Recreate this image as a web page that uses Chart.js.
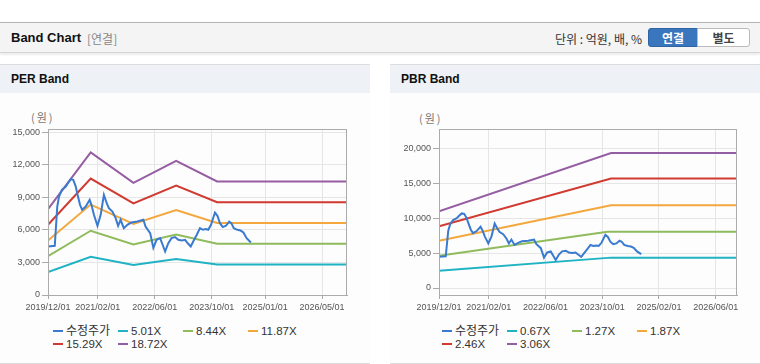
<!DOCTYPE html>
<html><head><meta charset="utf-8">
<script src="https://cdn.jsdelivr.net/npm/chart.js@4/dist/chart.umd.min.js"></script>
<style>
html,body{margin:0;padding:0;background:#fff;}
body{width:760px;height:364px;position:relative;overflow:hidden;font-family:"Liberation Sans","Noto Sans CJK KR",sans-serif;}
.topbar{position:absolute;left:0;top:22px;width:760px;height:29px;background:#f4f4f4;border-top:1px solid #b5b5b5;border-bottom:1px solid #d5d5d5;box-shadow:0 2px 2px rgba(0,0,0,0.08);}
.title{position:absolute;left:11px;top:7px;font-size:13px;font-weight:bold;color:#111;}
.sub{position:absolute;left:87px;top:7px;font-size:12px;color:#888;font-family:"Noto Sans CJK KR",sans-serif;}
.unit{position:absolute;right:118px;top:7px;font-size:12px;color:#333;font-family:"Noto Sans CJK KR",sans-serif;}
.btn{position:absolute;top:5px;height:19px;line-height:18px;text-align:center;font-size:12px;font-weight:bold;font-family:"Noto Sans CJK KR",sans-serif;box-sizing:border-box;}
.b1{left:648px;width:50px;background:#3a76bd;color:#fff;border:1px solid #2f64a3;border-radius:3px 0 0 3px;}
.b2{left:697px;width:53px;background:#fff;color:#444;border:1px solid #bbb;border-radius:0 3px 3px 0;}
.panel{position:absolute;top:64px;width:370px;height:298px;background:#fdfdfd;border-top:1px solid #dcdcdc;border-bottom:1px solid #dcdcdc;}
.phead{position:absolute;left:0;top:0;width:100%;height:28px;background:#eef1f5;}
.phead span{position:absolute;left:11px;top:7px;font-size:12px;font-weight:bold;color:#111;}
.unitlbl{position:absolute;font-size:11px;color:#777;font-family:"Noto Sans CJK KR",sans-serif;letter-spacing:2px;}
canvas{position:absolute;}
.legend{position:absolute;width:270px;font-size:11.5px;color:#333;line-height:13px;}
.legend .it{display:inline-block;width:65px;height:13px;white-space:nowrap;}
.legend .sw{display:inline-block;width:10px;height:2px;vertical-align:middle;margin-right:3px;margin-top:-2px;}
.legend .kr{font-family:"Noto Sans CJK KR",sans-serif;font-size:12px;}
</style></head>
<body>
<div class="topbar"><div class="title">Band Chart</div><div class="sub">[연결]</div><div class="unit">단위 : 억원, 배, %</div><div class="btn b1">연결</div><div class="btn b2">별도</div></div>
<div class="panel" style="left:0;"><div class="phead"><span>PER Band</span></div></div>
<div class="panel" style="left:390px;"><div class="phead"><span>PBR Band</span></div></div>
<div class="unitlbl" style="left:31px;top:109px;">(원)</div>
<div class="unitlbl" style="left:419px;top:110px;">(원)</div>
<canvas id="per" width="370" height="215" style="left:0;top:100px;width:370px;height:215px;"></canvas>
<canvas id="pbr" width="370" height="215" style="left:390px;top:100px;width:370px;height:215px;"></canvas>
<div class="legend" id="perLegend" style="left:53px;top:323px;"></div>
<div class="legend" id="pbrLegend" style="left:442px;top:323px;"></div>
<script>
// ---- data ----
const perTickMonths = [0, 14, 30, 46, 61, 77];
const perTickLabels = ['2019/12/01','2021/02/01','2022/06/01','2023/10/01','2025/01/01','2026/05/01'];
const pbrTickMonths = [0, 14, 30, 46, 62, 78];
const pbrTickLabels = ['2019/12/01','2021/02/01','2022/06/01','2023/10/01','2025/02/01','2026/06/01'];

// month index from 2019/12 for 수정주가
const priceMonths = [0,1.9,2.6,3.1,3.9,5.0,5.6,6.4,7.1,7.8,8.2,9.0,9.6,10.6,11.7,12.2,12.9,13.9,14.8,15.7,16.5,17.1,18.1,19.0,19.7,20.4,21.3,22.3,23.4,25.1,26.8,27.4,28.7,29.6,30.5,31.5,32.2,32.9,33.8,34.7,35.7,36.6,37.6,38.5,39.4,40.1,40.8,41.8,42.7,43.5,44.3,45.0,45.8,46.9,47.6,48.3,49.1,50.0,50.9,51.5,52.2,53.2,54.1,54.9,55.8,57.0];
const priceValues = [4470,4530,8150,9070,9690,9990,10300,10670,10610,9990,9380,8310,7850,8150,8770,8310,7390,6380,7390,9230,8460,8000,7690,7080,6380,6930,6160,6470,6680,6770,6930,6310,5700,4350,5090,5240,4630,4010,4780,5240,5340,5090,5020,5090,4720,4470,4930,5550,6160,6010,6070,6010,6470,7600,7300,6620,6260,6380,6770,6620,6160,6010,5940,5760,5240,4840];

const perBandMonths = [0, 12, 24, 36, 47.5, 84];
const per501  = [2119, 3517, 2766, 3307, 2801, 2801];
const per844  = [3570, 5925, 4659, 5570, 4718, 4718];
const per1187 = [5021, 8333, 6552, 7834, 6635, 6635];
const per1529 = [6468, 10734, 8440, 10091, 8547, 8547];
const per1872 = [7919, 13141, 10333, 12355, 10464, 10464];
const perLabels = ['수정주가','5.01X','8.44X','11.87X','15.29X','18.72X'];

const pbrBandMonths = [0, 48.5, 84];
const pbrGreenMonths = [0, 47.5, 84];
const pbr067 = [2457, 4347, 4347];
const pbr127 = [4631, 8040, 8040];
const pbr187 = [6761, 11830, 11830];
const pbr246 = [8846, 15663, 15663];
const pbr306 = [10980, 19320, 19320];
const pbrLabels = ['수정주가','0.67X','1.27X','1.87X','2.46X','3.06X'];

const colors = ['#3a7bd0','#1fb3c3','#8fbb5c','#f3a73c','#d13a31','#955da2'];

// ---- helpers ----
function pts(xs, ys){ return xs.map((x,i)=>({x:x, y:ys[i]})); }
const boxPlugin = {id:'box', afterDraw(chart){const a=chart.chartArea,c=chart.ctx;c.save();c.strokeStyle='#ababab';c.lineWidth=1;c.strokeRect(Math.round(a.left)+0.5,Math.round(a.top)+0.5,Math.round(a.right-a.left)-1,Math.round(a.bottom-a.top));c.restore();}};
const tickFont = {family:'"Liberation Sans",Arial,sans-serif', size:9};

function makeChart(id, labels, seriesList, tickMonths, tickLabels, yMin, yMax, yTicks, rightPad, leftW){
  const datasets = seriesList.map((s,i)=>({label:labels[i], data:s, borderColor:colors[i], backgroundColor:colors[i], borderWidth:2, pointRadius:0, tension:0, fill:false}));
  return new Chart(document.getElementById(id), {
    type:'line',
    data:{datasets},
    plugins:[boxPlugin],
    options:{
      responsive:false, animation:false,
      layout:{padding:{left:0,right:rightPad,top:29,bottom:0}},
      plugins:{legend:{display:false}, tooltip:{enabled:false}},
      scales:{
        x:{type:'linear', min:0, max:84,
          afterBuildTicks(s){ s.ticks = tickMonths.map(v=>({value:v})); },
          afterFit(s){ s.height = 20; },
          ticks:{autoSkip:false, maxRotation:0, padding:3, color:'#555', font:tickFont,
            callback:(v)=>{const k=tickMonths.indexOf(v); return k>=0?tickLabels[k]:'';}},
          grid:{color:'#e6e6e6', tickColor:'#aaa', tickLength:4},
          border:{color:'#ababab'}},
        y:{type:'linear', min:yMin, max:yMax,
          afterBuildTicks(s){ s.ticks = yTicks.map(v=>({value:v})); },
          afterFit(s){ s.width = leftW; },
          ticks:{padding:2, color:'#555', font:tickFont, callback:(v)=>v.toLocaleString('en-US')},
          grid:{color:'#e6e6e6', tickColor:'#aaa', tickLength:6},
          border:{color:'#ababab'}}
      }
    }
  });
}

makeChart('per', perLabels, [pts(priceMonths,priceValues), pts(perBandMonths,per501), pts(perBandMonths,per844), pts(perBandMonths,per1187), pts(perBandMonths,per1529), pts(perBandMonths,per1872)],
  perTickMonths, perTickLabels, 0, 15300, [0,3000,6000,9000,12000,15000], 23, 48);
makeChart('pbr', pbrLabels, [pts(priceMonths,priceValues), pts(pbrBandMonths,pbr067), pts(pbrGreenMonths,pbr127), pts(pbrBandMonths,pbr187), pts(pbrBandMonths,pbr246), pts(pbrBandMonths,pbr306)],
  pbrTickMonths, pbrTickLabels, -1000, 22750, [0,5000,10000,15000,20000], 23, 49);

function legend(id, labels){
  const el = document.getElementById(id);
  el.innerHTML = labels.map((l,i)=>'<span class="it"><span class="sw" style="background:'+colors[i]+'"></span><span class="'+(i===0?'kr':'')+'">'+l+'</span></span>').join('');
}
legend('perLegend', perLabels);
legend('pbrLegend', pbrLabels);
</script>
</body></html>
